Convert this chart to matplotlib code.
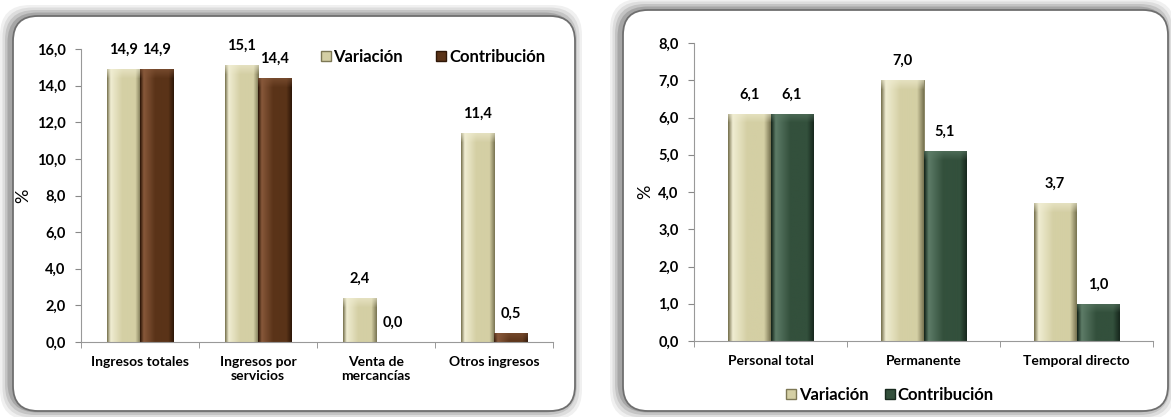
import numpy as np
import matplotlib.pyplot as plt
from matplotlib.patches import FancyBboxPatch, Patch
from matplotlib.colors import LinearSegmentedColormap, to_rgb

plt.rcParams['font.family'] = ['Lato', 'DejaVu Sans']
plt.rcParams['font.weight'] = 'bold'

# datos
ingresos_cats = ['Ingresos totales', 'Ingresos por\nservicios', 'Venta de\nmercancías', 'Otros ingresos']
ingresos_var = [14.9, 15.1, 2.4, 11.4]
ingresos_con = [14.9, 14.4, 0.0, 0.5]

personal_cats = ['Personal total', 'Permanente', 'Temporal directo']
personal_var = [6.1, 7.0, 3.7]
personal_con = [6.1, 5.1, 1.0]

series_names = ['Variación', 'Contribución']

beige = ('#7d7855', '#d4cfa4', '#f0edd2')
brown = ('#2e1708', '#5a3318', '#87583a')
green = ('#18291e', '#33503c', '#5d7c67')

W, H = 1171, 417
fig = plt.figure(figsize=(W / 100, H / 100), dpi=100)


def fmt(v):
    return f'{v:.1f}'.replace('.', ',')


def panel(x0, y0, x1, y1):
    # caja redondeada con sombra, en pixeles (y desde arriba)
    tr = fig.dpi_scale_trans
    x, y = x0 / 100, (H - y1) / 100
    w, h = (x1 - x0) / 100, (y1 - y0) / 100
    for i, a in enumerate([0.06, 0.08, 0.11, 0.15]):
        s = (4 - i) * 0.025
        fig.patches.append(FancyBboxPatch((x - s - 0.03, y - s + 0.01), w + 2 * s, h + 2 * s,
                                          boxstyle='round,pad=0,rounding_size=0.3',
                                          transform=tr, facecolor='#000000', alpha=a,
                                          edgecolor='none', zorder=0))
    fig.patches.append(FancyBboxPatch((x, y), w, h, boxstyle='round,pad=0,rounding_size=0.25',
                                      transform=tr, facecolor='white', edgecolor='#6f6f6f',
                                      linewidth=1.3, zorder=1))


def shade_bars(ax, bars, cols):
    dark, mid, light = [np.array(to_rgb(c)) for c in cols]
    cmap = LinearSegmentedColormap.from_list('b', [(0, dark), (0.1, light), (0.45, mid),
                                                   (0.85, mid), (1.0, dark)])
    p0, p1 = ax.transData.transform([(0, 0), (0, 1)])
    ppu = p1[1] - p0[1]
    for b in bars:
        h = b.get_height()
        if h <= 0:
            continue
        nrows = max(int(round(h * ppu)), 1)
        row = cmap(np.linspace(0, 1, 40))[:, :3]
        img = np.repeat(row[None, :, :], nrows, axis=0)
        band = min(9, nrows)
        for r in range(band):
            t = 0.6 * (1 - r / band)
            img[r] = img[r] * (1 - t) + light * t
        im = ax.imshow(img, extent=[b.get_x(), b.get_x() + b.get_width(), 0, h],
                       aspect='auto', zorder=2, interpolation='bilinear')
        im.set_clip_path(b)


def chart(ax, cats, var, con, ymax, step, col2):
    x = np.arange(len(cats))
    w = 0.28
    b1 = ax.bar(x - w / 2, var, w, color=beige[1], edgecolor=beige[0], linewidth=0.6, zorder=1)
    b2 = ax.bar(x + w / 2, con, w, color=col2[1], edgecolor=col2[0], linewidth=0.6, zorder=1)
    ax.set_xlim(-0.5, len(cats) - 0.5)
    ax.set_ylim(0, ymax)
    ax.set_yticks(np.arange(0, ymax + step / 2, step))
    ax.set_yticklabels([fmt(v) for v in np.arange(0, ymax + step / 2, step)], fontsize=10.5)
    ax.set_xticks(x)
    ax.set_xticklabels(cats, fontsize=10)
    ax.set_xticks(np.arange(-0.5, len(cats)), minor=True)
    ax.tick_params(axis='x', which='major', length=0, pad=10)
    ax.tick_params(axis='x', which='minor', length=4, direction='out', color='#888888')
    ax.tick_params(axis='y', length=4, direction='out', color='#888888', pad=7)
    for s in ['top', 'right']:
        ax.spines[s].set_visible(False)
    for s in ['left', 'bottom']:
        ax.spines[s].set_color('#999999')
    ax.set_ylabel('%', fontsize=13, fontweight='normal', labelpad=4)
    shade_bars(ax, b1, beige)
    shade_bars(ax, b2, col2)
    ax.set_xlim(-0.5, len(cats) - 0.5)
    ax.set_ylim(0, ymax)
    for bars, vals in [(b1, var), (b2, con)]:
        for b, v in zip(bars, vals):
            ax.annotate(fmt(v), (b.get_x() + b.get_width() / 2, v), xytext=(0, 14),
                        textcoords='offset points', ha='center', va='center', fontsize=10.5)
    ax.patch.set_alpha(0)
    return b1, b2


panel(13, 16, 575, 411)
panel(623, 10, 1168, 411)

ax1 = fig.add_axes([81 / W, 1 - 342 / H, (553 - 81) / W, (342 - 49) / H])
ax2 = fig.add_axes([694 / W, 1 - 341 / H, (1153 - 694) / W, (341 - 43) / H])
ax1.set_zorder(3)
ax2.set_zorder(3)

chart(ax1, ingresos_cats, ingresos_var, ingresos_con, 16, 2, brown)
chart(ax2, personal_cats, personal_var, personal_con, 8, 1, green)

h1 = [Patch(facecolor=beige[1], edgecolor=beige[0]), Patch(facecolor=brown[1], edgecolor=brown[0])]
h2 = [Patch(facecolor=beige[1], edgecolor=beige[0]), Patch(facecolor=green[1], edgecolor=green[0])]

fig.legend(h1, series_names, loc='center left', bbox_to_anchor=(321 / W, 1 - 57 / H),
           ncol=2, frameon=False, fontsize=12, handlelength=0.6, handleheight=0.6,
           handletextpad=0.15, columnspacing=2.0, borderpad=0, borderaxespad=0)
fig.legend(h2, series_names, loc='center', bbox_to_anchor=(890 / W, 1 - 395 / H),
           ncol=2, frameon=False, fontsize=12, handlelength=0.6, handleheight=0.6,
           handletextpad=0.15, columnspacing=1.0, borderpad=0, borderaxespad=0)

fig.savefig('out.png', dpi=100)
